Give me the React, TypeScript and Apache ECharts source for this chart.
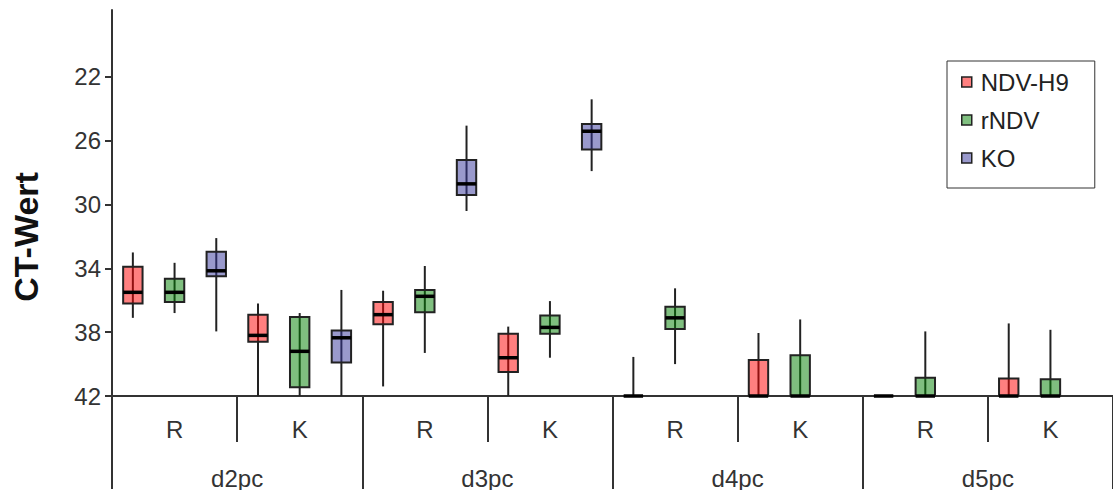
import React, { useEffect, useRef } from "react";
import * as echarts from "echarts";

const groups = ["d2pc", "d3pc", "d4pc", "d5pc"];
const subgroups = ["R", "K"];
const categories = groups.flatMap((g) => subgroups.map((s) => `${g} ${s}`));
const seriesNames = ["NDV-H9", "rNDV", "KO"];
const yTicks = [22, 26, 30, 34, 38, 42];

// [min, q1, median, q3, max] per category (null = no data)
const ndvH9: (number[] | null)[] = [
  [33.0, 33.9, 35.5, 36.2, 37.1],
  [36.2, 36.9, 38.2, 38.6, 42],
  [35.4, 36.1, 36.9, 37.5, 41.4],
  [37.65, 38.1, 39.6, 40.5, 42],
  [39.55, 42, 42, 42, 42],
  [38.05, 39.75, 42, 42, 42],
  [42, 42, 42, 42, 42],
  [37.45, 40.9, 42, 42, 42],
];
const rNdv: (number[] | null)[] = [
  [33.65, 34.65, 35.5, 36.1, 36.8],
  [36.8, 37.05, 39.2, 41.45, 42],
  [33.85, 35.35, 35.75, 36.75, 39.3],
  [36.05, 36.95, 37.7, 38.1, 39.6],
  [35.25, 36.4, 37.1, 37.8, 40.0],
  [37.2, 39.45, 42, 42, 42],
  [37.95, 40.85, 42, 42, 42],
  [37.85, 40.95, 42, 42, 42],
];
const ko: (number[] | null)[] = [
  [32.1, 32.95, 34.15, 34.5, 37.95],
  [35.35, 37.9, 38.35, 39.9, 42],
  [25.05, 27.2, 28.7, 29.4, 30.4],
  [23.4, 24.95, 25.4, 26.55, 27.9],
  null,
  null,
  null,
  null,
];

const seriesData = [ndvH9, rNdv, ko];
const fills = ["rgba(255,0,0,0.5)", "rgba(0,128,0,0.5)", "rgba(51,51,153,0.5)"];
const legendColors = ["#FF8080", "#80C080", "#9999CC"];

const FONT = "'Liberation Sans', Arial, sans-serif";

function makeRender(idx: number) {
  return (params: any, api: any) => {
    const x = api.value(0);
    const band = api.size([1, 0])[0];
    const base = api.coord([x, api.value(3)]);
    const cx = base[0] + ((idx - 1) * band) / 3;
    const w = band * 0.155;
    const yMin = api.coord([x, api.value(1)])[1];
    const yQ1 = api.coord([x, api.value(2)])[1];
    const yMed = base[1];
    const yQ3 = api.coord([x, api.value(4)])[1];
    const yMax = api.coord([x, api.value(5)])[1];
    return {
      type: "group",
      children: [
        {
          type: "line",
          shape: { x1: cx, y1: yMin, x2: cx, y2: yMax },
          style: { stroke: "#222", lineWidth: 2 },
        },
        {
          type: "rect",
          shape: {
            x: cx - w / 2,
            y: Math.min(yQ1, yQ3),
            width: w,
            height: Math.abs(yQ3 - yQ1),
          },
          style: { fill: fills[idx], stroke: "#222", lineWidth: 2 },
        },
        {
          type: "line",
          shape: { x1: cx - w / 2, y1: yMed, x2: cx + w / 2, y2: yMed },
          style: { stroke: "#000", lineWidth: 3.5 },
        },
      ],
    };
  };
}

export default function App() {
  const ref = useRef<HTMLDivElement>(null);
  useEffect(() => {
    if (!ref.current) return;
    const chart = echarts.init(ref.current, undefined, { renderer: "svg" });
    const series = seriesNames.map((name, idx) => ({
      name,
      type: "custom",
      xAxisIndex: 0,
      yAxisIndex: 0,
      itemStyle: { color: legendColors[idx] },
      renderItem: makeRender(idx),
      encode: { x: 0, y: [1, 2, 3, 4, 5] },
      data: seriesData[idx]
        .map((v, i) => (v ? [i, ...v] : null))
        .filter((d) => d !== null),
      clip: false,
    }));
    chart.setOption({
      animation: false,
      backgroundColor: "#fff",
      textStyle: { fontFamily: FONT },
      grid: { left: 112, top: 10, width: 1008, height: 387 },
      legend: {
        left: 947,
        top: 61,
        orient: "vertical",
        selectedMode: false,
        padding: [9, 26, 18, 14],
        itemGap: 14,
        itemWidth: 10,
        itemHeight: 10,
        icon: "rect",
        borderColor: "#333",
        borderWidth: 1,
        backgroundColor: "#fff",
        itemStyle: { borderColor: "#222", borderWidth: 1.5 },
        textStyle: {
          fontSize: 24,
          fontFamily: FONT,
          color: "#222",
          lineHeight: 24,
          padding: [0, 0, 0, 4],
        },
        data: seriesNames,
      },
      xAxis: [
        {
          type: "category",
          data: categories,
          position: "bottom",
          axisLine: { show: true, lineStyle: { color: "#333", width: 2 } },
          axisTick: {
            show: true,
            interval: 0,
            alignWithLabel: false,
            length: 46,
            lineStyle: { color: "#333", width: 2 },
          },
          axisLabel: {
            interval: 0,
            fontSize: 24,
            fontFamily: FONT,
            color: "#333",
            margin: 21,
            formatter: (v: string) => v.split(" ")[1],
          },
          splitLine: { show: false },
        },
        {
          type: "category",
          data: groups,
          position: "bottom",
          axisLine: { show: false },
          axisTick: {
            show: true,
            interval: 0,
            alignWithLabel: false,
            length: 93,
            lineStyle: { color: "#333", width: 2 },
          },
          axisLabel: {
            interval: 0,
            fontSize: 24,
            fontFamily: FONT,
            color: "#333",
            margin: 70,
          },
          splitLine: { show: false },
        },
      ],
      yAxis: {
        type: "value",
        inverse: true,
        min: 17.8,
        max: 42,
        axisLine: { show: true, lineStyle: { color: "#333", width: 2 } },
        axisTick: {
          show: true,
          length: 7,
          customValues: yTicks,
          lineStyle: { color: "#333", width: 2 },
        },
        axisLabel: {
          customValues: yTicks,
          fontSize: 24,
          fontFamily: FONT,
          color: "#333",
          margin: 11,
        },
        splitLine: { show: false },
      },
      graphic: [
        {
          type: "text",
          x: 26,
          y: 237,
          rotation: Math.PI / 2,
          style: {
            text: "CT-Wert",
            fontSize: 34,
            fontWeight: "bold",
            fontFamily: FONT,
            fill: "#111",
            textAlign: "center",
            textVerticalAlign: "middle",
          },
        },
      ],
      series,
    });
    return () => chart.dispose();
  }, []);
  return (
    <div
      ref={ref}
      style={{ position: "absolute", left: 0, top: 0, width: 1113, height: 490 }}
    />
  );
}
